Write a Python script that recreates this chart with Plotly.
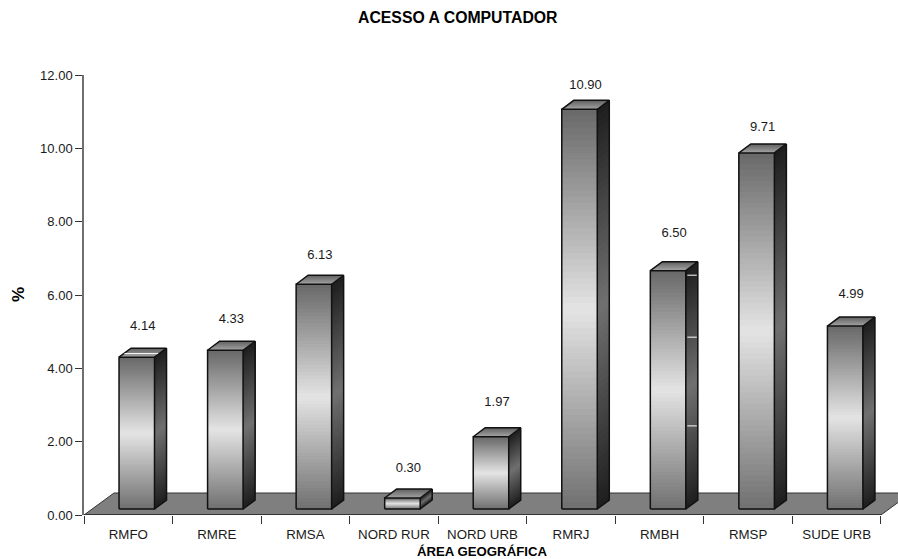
import plotly.graph_objects as go

categories = ["RMFO", "RMRE", "RMSA", "NORD RUR", "NORD URB", "RMRJ", "RMBH", "RMSP", "SUDE URB"]
values = [4.14, 4.33, 6.13, 0.30, 1.97, 10.90, 6.50, 9.71, 4.99]
y_ticks = [0, 2, 4, 6, 8, 10, 12]
# small extra lift of each value label above its bar (axis units)
label_lift = [1.00, 1.00, 0.93, 0.95, 1.08, 0.80, 1.17, 0.84, 1.01]
# stray white marks on the sides of two bars in the original: (category index, level)
side_glints = [(6, 6.54), (6, 4.85), (6, 2.43)]

W, H = 898, 559
L, T, B = 84, 75, 515
PX_X = 88.55            # pixels per category
PX_Y = (B - T) / 12.0   # pixels per axis unit
STEPS = 64

bar_w = 35.5 / PX_X
bar_off = 8.5 / PX_X + 0.5
base = 6 / PX_Y
dx, dy = 12 / PX_X, 9 / PX_Y
floor_dx, floor_dy = 30 / PX_X, 22 / PX_Y
n = len(categories)
xmax = (W - L) / PX_X
LINE = "#111111"
FONT = "Liberation Sans"
TEXT = "#1a1a1a"


def mix(a, b, t):
    return "rgb(%d,%d,%d)" % tuple(round(a + (b - a) * t) for _ in range(3))


def vgrad(t, top, mid, bot):
    """t runs 0 bottom -> 1 top"""
    return mix(bot, mid, t / 0.5) if t < 0.5 else mix(mid, top, (t - 0.5) / 0.5)


fig = go.Figure()

centers = [i + bar_off for i in range(n)]

# front faces: overlaid bars, each starting a step higher, draw the vertical gradient
for s in range(STEPS):
    fig.add_trace(go.Bar(
        x=centers,
        y=[v * (1 - s / STEPS) for v in values],
        base=[base + v * s / STEPS for v in values],
        width=bar_w,
        marker=dict(color=vgrad((s + 0.5) / STEPS, 104, 228, 112), line=dict(width=0)),
        hoverinfo="skip"))

# side faces: each step reaches to the top so later steps cover earlier ones without seams
for s in range(STEPS):
    xs, ys = [], []
    for c, v in zip(centers, values):
        r = c + bar_w / 2
        y0 = base + v * s / STEPS
        y1 = base + v
        xs += [r, r + dx, r + dx, r, r, None]
        ys += [y0, y0 + dy, y1 + dy, y1, y0, None]
    fig.add_trace(go.Scatter(
        x=xs, y=ys, mode="lines", fill="toself", line=dict(width=0),
        fillcolor=vgrad((s + 0.5) / STEPS, 30, 112, 30), hoverinfo="skip"))

# top faces
TOP_STEPS = 8
for s in range(TOP_STEPS):
    xs, ys = [], []
    for c, v in zip(centers, values):
        le = c - bar_w / 2
        r = c + bar_w / 2
        t = s / TOP_STEPS
        xs += [le + dx * t, r + dx * t, r + dx, le + dx, le + dx * t, None]
        ys += [base + v + dy * t, base + v + dy * t, base + v + dy, base + v + dy, base + v + dy * t, None]
    fig.add_trace(go.Scatter(
        x=xs, y=ys, mode="lines", fill="toself", line=dict(width=0),
        fillcolor=mix(165, 95, (s + 0.5) / TOP_STEPS), hoverinfo="skip"))

# outlines
ox, oy = [], []
for c, v in zip(centers, values):
    le, r = c - bar_w / 2, c + bar_w / 2
    b0, b1 = base, base + v
    ox += [le, r, r, le, le, None,
           le, le + dx, r + dx, r, None,
           r + dx, r + dx, r, None]
    oy += [b0, b0, b1, b1, b0, None,
           b1, b1 + dy, b1 + dy, b1, None,
           b1 + dy, b0 + dy, b0, None]
fig.add_trace(go.Scatter(x=ox, y=oy, mode="lines",
                         line=dict(color=LINE, width=1.5), hoverinfo="skip"))

# white glints
gx, gy = [], []
for i, lev in side_glints:
    r = centers[i] + bar_w / 2
    gx += [r + 1.5 / PX_X, r + dx - 1 / PX_X, None]
    gy += [lev, lev, None]
le = centers[0] - bar_w / 2
gx += [le + dx * 0.45, le + bar_w + dx * 0.3, None]
gy += [base + values[0] + dy * 0.4, base + values[0] + dy * 0.4, None]
fig.add_trace(go.Scatter(x=gx, y=gy, mode="lines",
                         line=dict(color="#ffffff", width=1), hoverinfo="skip"))

# value labels
fig.add_trace(go.Scatter(
    x=[c + 6 / PX_X for c in centers],
    y=[v + lift for v, lift in zip(values, label_lift)],
    text=["%.2f" % v for v in values],
    mode="text", textposition="middle center",
    textfont=dict(family=FONT, size=13, color=TEXT),
    hoverinfo="skip", cliponaxis=False))

# category axis line
fig.add_trace(go.Scatter(x=[0, n], y=[0, 0], mode="lines", cliponaxis=False,
                         line=dict(color="#333333", width=2.2), hoverinfo="skip"))

floor_path = "M 0 0 L {a} 0 L {b} {h} L {c} {h} L {d} {h} Z".format(
    a=n, b=n + floor_dx, c=n + floor_dx + 1, d=floor_dx, h=floor_dy)

fig.update_layout(
    width=W, height=H, autosize=False,
    margin=dict(l=L, r=0, t=T, b=H - B, pad=0),
    paper_bgcolor="white", plot_bgcolor="white",
    showlegend=False, barmode="overlay",
    shapes=[dict(type="path", path=floor_path, xref="x", yref="y", layer="below",
                 fillcolor="#7f7f7f", line=dict(color="#333333", width=1))],
    xaxis=dict(
        range=[0, xmax], showgrid=False, zeroline=False, showline=False,
        tickmode="array", tickvals=[i + 0.5 for i in range(n)], ticktext=categories,
        ticks="outside", ticklen=0, ticklabelstandoff=7,
        tickfont=dict(family=FONT, size=13.3, color=TEXT),
        minor=dict(tickmode="array", tickvals=list(range(n + 1)), ticks="outside",
                   ticklen=8, tickwidth=1, tickcolor="#333333")),
    yaxis=dict(
        range=[0, 12], showgrid=False, zeroline=False,
        showline=True, linecolor="#707070", linewidth=1.5,
        tickmode="array", tickvals=y_ticks, tickformat=".2f",
        ticks="outside", ticklen=7, tickwidth=1, tickcolor="#333333",
        tickfont=dict(family=FONT, size=13, color=TEXT)),
    annotations=[
        dict(text="<b>ACESSO A COMPUTADOR</b>", xref="paper", yref="paper",
             x=(457.5 - L) / (W - L), y=(B - 18) / (B - T), showarrow=False,
             xanchor="center", yanchor="middle",
             font=dict(family=FONT, size=15.8, color="#000000")),
        dict(text="<b>ÁREA GEOGRÁFICA</b>", xref="paper", yref="paper",
             x=(482 - L) / (W - L), y=(B - 551) / (B - T), showarrow=False,
             xanchor="center", yanchor="middle",
             font=dict(family=FONT, size=13.2, color="#000000")),
        dict(text="<b>%</b>", xref="paper", yref="paper",
             x=(18 - L) / (W - L), y=(B - 295) / (B - T), showarrow=False,
             textangle=-90, xanchor="center", yanchor="middle",
             font=dict(family=FONT, size=17, color="#000000")),
    ],
)

fig.write_html("out.html", config=dict(displayModeBar=False),
               post_script="document.body.style.margin='0';document.body.style.overflow='hidden';")
